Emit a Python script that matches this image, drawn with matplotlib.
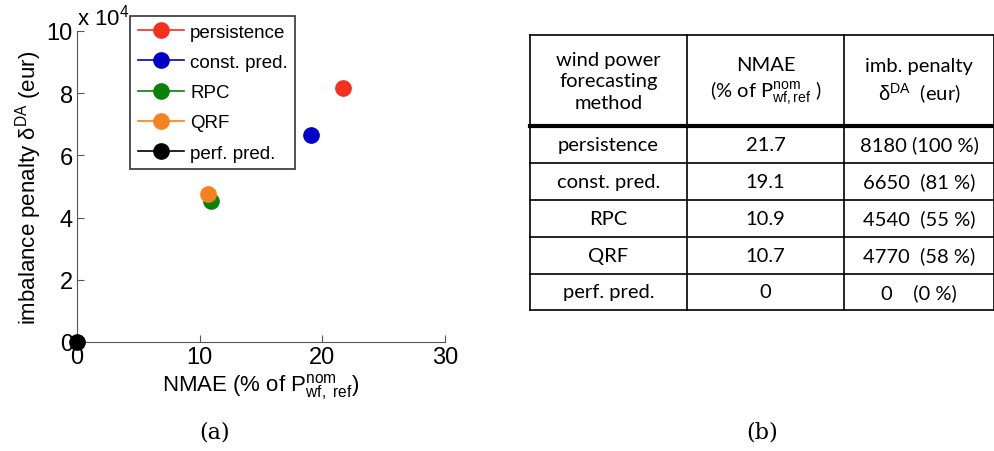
import numpy as np
import matplotlib.pyplot as plt
from matplotlib.lines import Line2D
from matplotlib.ticker import FuncFormatter

# data
methods = ['persistence', 'const. pred.', 'RPC', 'QRF', 'perf. pred.']
nmae = [21.7, 19.1, 10.9, 10.7, 0.0]
penalty_plot = [81800, 66500, 45400, 47700, 0]   # as plotted (x 10^4 axis)
nmae_txt = ['21.7', '19.1', '10.9', '10.7', '0']
penalty_txt = ['8180 (100 %)', '6650  (81 %)', '4540  (55 %)', '4770  (58 %)', '0    (0 %)']
colors = ['#f5301e', '#0000c8', '#0a820a', '#f5821e', '#000000']
header = ['wind power\nforecasting\nmethod',
          'NMAE\n(% of P$^{\\mathrm{nom}}_{\\mathrm{wf,ref}}$ )',
          'imb. penalty\n$\\mathrm{\\delta}^{\\mathrm{DA}}$  (eur)']

plt.rcParams['font.family'] = ['Liberation Sans', 'DejaVu Sans']
plt.rcParams['mathtext.fontset'] = 'custom'
plt.rcParams['mathtext.rm'] = 'Liberation Sans'
plt.rcParams['mathtext.it'] = 'Liberation Sans:italic'

W, H = 995, 452
fig = plt.figure(figsize=(W / 100, H / 100), dpi=100)

# ---- (a) scatter plot ----
ax = fig.add_axes([77 / W, 1 - 343 / H, 368 / W, 311 / H])
for m, x, y, c in zip(methods, nmae, penalty_plot, colors):
    ax.plot([x], [y], 'o', color=c, markersize=11, clip_on=False, zorder=3)
ax.set_xlim(0, 30)
ax.set_ylim(0, 100000)
ax.set_xticks([0, 10, 20, 30])
ax.set_yticks(np.arange(0, 100001, 20000))
ax.yaxis.set_major_formatter(FuncFormatter(lambda v, p: '%d' % round(v / 1e4)))
for s in ['top', 'right']:
    ax.spines[s].set_visible(False)
for s in ['left', 'bottom']:
    ax.spines[s].set_color('#555555')
ax.tick_params(direction='in', length=5, labelsize=17, pad=3, color='#555555')
ax.set_xlabel('NMAE (% of P$^{\\mathrm{nom}}_{\\mathrm{wf,\\ ref}}$)', fontsize=16, labelpad=2)
ax.set_ylabel('imbalance penalty $\\mathrm{\\delta}^{\\mathrm{DA}}$ (eur)', fontsize=16, labelpad=2)
fig.text(77 / W, 1 - 18 / H, 'x 10$^{4}$', fontsize=16, va='center', ha='left')

handles = [Line2D([0], [0], color=c, marker='o', markersize=11, lw=1.2) for c in colors]
leg = ax.legend(handles, methods, loc='upper left', bbox_to_anchor=(130 / W, 1 - 17 / H),
                bbox_transform=fig.transFigure, fontsize=13.5, frameon=True, fancybox=False,
                edgecolor='black', handlelength=2.5, handletextpad=0.3, borderpad=0.4,
                labelspacing=0.7, borderaxespad=0)
leg.get_frame().set_linewidth(1.2)

fig.text(215 / W, 1 - 433 / H, '(a)', fontsize=16, family='DejaVu Serif', ha='center', va='center')

# ---- (b) table ----
tx = fig.add_axes([0, 0, 1, 1])
tx.set_xlim(0, W)
tx.set_ylim(H, 0)
tx.axis('off')
cols = [530, 687, 844, 994]
rows = [36, 127, 164, 201, 238, 275, 311]
for x in cols:
    tx.plot([x, x], [rows[0], rows[-1]], color='black', lw=1.2)
for i, y in enumerate(rows):
    tx.plot([cols[0], cols[-1]], [y, y], color='black', lw=3 if i == 1 else 1.2)

tfont = dict(family=['Lato', 'DejaVu Sans'], fontsize=14.5, ha='center', va='center')
centers = [(cols[i] + cols[i + 1]) / 2 for i in range(3)]
for cx, htxt in zip(centers, header):
    tx.text(cx, 82, htxt, linespacing=1.3, **tfont)
for i in range(len(methods)):
    yc = (rows[i + 1] + rows[i + 2]) / 2
    tx.text(centers[0], yc, methods[i], **tfont)
    tx.text(centers[1], yc, nmae_txt[i], **tfont)
    tx.text(centers[2], yc, penalty_txt[i], **tfont)

fig.text(762 / W, 1 - 433 / H, '(b)', fontsize=16, family='DejaVu Serif', ha='center', va='center')

fig.savefig('out.png', dpi=100)
